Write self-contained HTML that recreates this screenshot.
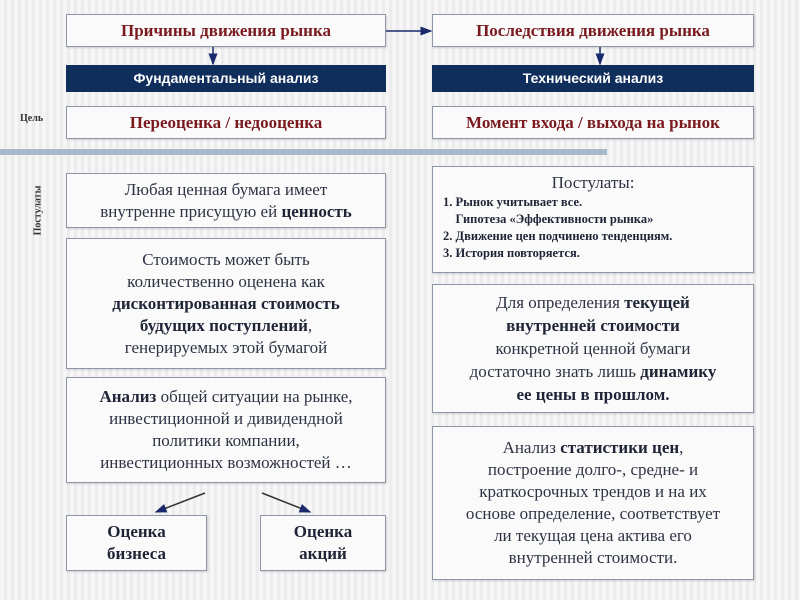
<!DOCTYPE html>
<html><head><meta charset="utf-8"><style>
body{margin:0;width:800px;height:600px;overflow:hidden;position:relative;font-family:"Liberation Serif",serif;
background:#f3f3f3 repeating-linear-gradient(90deg,#f6f6f6 0 4px,#ececec 4px 7px);}
.b{position:absolute;box-sizing:border-box;background:#fafafa;border:1.5px solid #8e97a8;box-shadow:1px 1px 2px rgba(0,0,0,.15);text-align:center;color:#2e3344;display:flex;align-items:center;justify-content:center;}
.b>div{width:100%}
.t{color:#7a1a1f;font-weight:bold;font-size:17px;}
.d{position:absolute;background:#0f2e5c;color:#fff;font-family:"Liberation Sans",sans-serif;font-weight:bold;font-size:14px;text-align:center;line-height:27px;}
.p{font-size:17px;line-height:22px;}
b{color:#1f2436}
</style></head><body>
<div class="b t" style="left:66px;top:14px;width:320px;height:33px"><div>Причины движения рынка</div></div>
<div class="b t" style="left:432px;top:14px;width:322px;height:33px"><div>Последствия движения рынка</div></div>
<div class="d" style="left:66px;top:65px;width:320px;height:27px">Фундаментальный анализ</div>
<div class="d" style="left:432px;top:65px;width:322px;height:27px">Технический анализ</div>
<div class="b t" style="left:66px;top:106px;width:320px;height:33px"><div>Переоценка / недооценка</div></div>
<div class="b t" style="left:432px;top:106px;width:322px;height:33px"><div>Момент входа / выхода на рынок</div></div>
<div style="position:absolute;left:20px;top:113px;font-size:10px;font-weight:bold;color:#333">Цель</div>
<div style="position:absolute;left:0;top:149px;width:607px;height:6px;background:#a9b9cc"></div>
<div style="position:absolute;left:8px;top:205px;font-size:10px;font-weight:bold;color:#333;transform:rotate(-90deg);transform-origin:center;width:60px;text-align:center">Постулаты</div>
<div class="b p" style="left:66px;top:173px;width:320px;height:55px"><div>Любая ценная бумага имеет<br>внутренне присущую ей <b>ценность</b></div></div>
<div class="b p" style="left:66px;top:238px;width:320px;height:131px"><div>Стоимость может быть<br>количественно оценена как<br><b>дисконтированная стоимость<br>будущих поступлений</b>,<br>генерируемых этой бумагой</div></div>
<div class="b p" style="left:66px;top:377px;width:320px;height:106px"><div><b>Анализ</b> общей ситуации на рынке,<br>инвестиционной и дивидендной<br>политики компании,<br>инвестиционных возможностей …</div></div>
<div class="b p" style="left:66px;top:515px;width:141px;height:56px"><div><b>Оценка<br>бизнеса</b></div></div>
<div class="b p" style="left:260px;top:515px;width:126px;height:56px"><div><b>Оценка<br>акций</b></div></div>
<div class="b" style="left:432px;top:166px;width:322px;height:107px;text-align:left;align-items:flex-start;padding:5px 0 0 10px">
<div><div style="font-size:17px;text-align:center;margin-left:-10px;line-height:22px">Постулаты:</div>
<div style="font-size:12.5px;font-weight:bold;line-height:17px;color:#1f2436">1. Рынок учитывает все.<br>&nbsp;&nbsp;&nbsp;&nbsp;Гипотеза «Эффективности рынка»<br>2. Движение цен подчинено тенденциям.<br>3. История повторяется.</div></div></div>
<div class="b p" style="left:432px;top:284px;width:322px;height:129px;line-height:23px"><div>Для определения <b>текущей</b><br><b>внутренней стоимости</b><br>конкретной ценной бумаги<br>достаточно знать лишь <b>динамику</b><br><b>ее цены в прошлом.</b></div></div>
<div class="b p" style="left:432px;top:426px;width:322px;height:154px"><div>Анализ <b>статистики цен</b>,<br>построение долго-, средне- и<br>краткосрочных трендов и на их<br>основе определение, соответствует<br>ли текущая цена актива его<br>внутренней стоимости.</div></div>
<svg width="800" height="600" style="position:absolute;left:0;top:0">
<defs><marker id="a" markerWidth="8" markerHeight="8" refX="7" refY="4" orient="auto"><path d="M0,1 L8,4 L0,7 z" fill="#1a2a6c"/></marker></defs>
<g stroke="#1a2a6c" stroke-width="1.5" fill="none">
<line x1="213" y1="47" x2="213" y2="64" marker-end="url(#a)"/>
<line x1="600" y1="47" x2="600" y2="64" marker-end="url(#a)"/>
<line x1="386" y1="31" x2="431" y2="31" marker-end="url(#a)"/>
<line x1="205" y1="493" x2="156" y2="512" marker-end="url(#a)" stroke="#333"/>
<line x1="262" y1="493" x2="310" y2="512" marker-end="url(#a)" stroke="#333"/>
</g></svg>
</body></html>
